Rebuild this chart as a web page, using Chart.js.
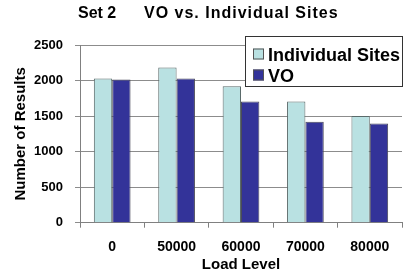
<!DOCTYPE html>
<html>
<head>
<meta charset="utf-8">
<script src="https://cdn.jsdelivr.net/npm/chart.js@4.4.1/dist/chart.umd.min.js"></script>
<style>
    html, body { margin: 0; padding: 0; background: #fff; }
</style>
</head>
<body>
<canvas id="myChart" width="405" height="278"></canvas>
<script>
const categories = ["0", "50000", "60000", "70000", "80000"]
const individualSites = [2030, 2185, 1920, 1705, 1500]
const vo = [2015, 2030, 1705, 1420, 1395]
const seriesNames = ["Individual Sites", "VO"]
const yMax = 2500
const yStep = 500

const lightColor = "#b9e1e2"
const darkColor = "#333399"
const fontFamily = "'Liberation Sans', Arial, sans-serif"

// Title drawn at a fixed spot (two parts with a wide gap)
const titlePlugin = {
    id: "fixedTitle",
    afterDraw(chart) {
        const c = chart.ctx
        c.save()
        c.fillStyle = "#000"
        c.font = "bold 16px " + fontFamily
        c.textBaseline = "alphabetic"
        c.fillText("Set 2", 78, 17.5)
        c.letterSpacing = "1px"
        c.fillText("VO vs. Individual Sites", 144, 17.5)
        c.restore()
    },
}

// Boxed legend that sits over the top right of the plot
const boxLegend = {
    id: "boxLegend",
    afterDraw(chart) {
        const c = chart.ctx
        c.save()
        c.fillStyle = "#fff"
        c.fillRect(245, 36, 158, 51)
        c.strokeStyle = "#333"
        c.lineWidth = 1
        c.strokeRect(245.5, 36.5, 157, 50)
        const rows = [
            { text: seriesNames[0], color: lightColor, y: 54.5 },
            { text: seriesNames[1], color: darkColor, y: 75.5 },
        ]
        c.font = "bold 18px " + fontFamily
        c.textBaseline = "alphabetic"
        rows.forEach((r) => {
            c.fillStyle = r.color
            c.fillRect(253, r.y - 6, 11, 11)
            c.strokeStyle = "#555"
            c.strokeRect(253.5, r.y - 5.5, 10, 10)
            c.fillStyle = "#000"
            c.fillText(r.text, 268, r.y + 6.5)
        })
        c.restore()
    },
}

new Chart(document.getElementById("myChart"), {
    type: "bar",
    data: {
        labels: categories,
        datasets: [
            {
                label: seriesNames[0],
                data: individualSites,
                backgroundColor: lightColor,
                borderColor: "#5a6a6a",
                borderWidth: 1,
            },
            {
                label: seriesNames[1],
                data: vo,
                backgroundColor: darkColor,
                borderColor: "#4a4a5a",
                borderWidth: 1,
            },
        ],
    },
    options: {
        responsive: false,
        animation: false,
        devicePixelRatio: 1,
        layout: {
            padding: { top: 45, right: 3, left: 0, bottom: 0 },
        },
        datasets: {
            bar: {
                categoryPercentage: 0.57,
                barPercentage: 1,
            },
        },
        scales: {
            x: {
                afterFit(scale) {
                    scale.height = 55.3
                },
                grid: {
                    offset: true,
                    drawOnChartArea: false,
                    tickLength: 5,
                    color: "#808080",
                },
                border: { color: "#808080" },
                ticks: {
                    color: "#000",
                    padding: 11,
                    font: { family: fontFamily, size: 14, weight: "bold" },
                },
                title: {
                    display: true,
                    text: "Load Level",
                    color: "#000",
                    padding: { top: 0, bottom: 4 },
                    font: { family: fontFamily, size: 15, weight: "bold" },
                },
            },
            y: {
                min: 0,
                max: yMax,
                afterFit(scale) {
                    scale.width = 80
                },
                grid: {
                    tickLength: 5,
                    color: "#8c8c8c",
                },
                border: { color: "#808080" },
                ticks: {
                    stepSize: yStep,
                    color: "#000",
                    padding: 12,
                    callback: (v) => String(v),
                    font: { family: fontFamily, size: 13, weight: "bold" },
                },
                title: {
                    display: true,
                    text: "Number of Results",
                    color: "#000",
                    padding: { top: 12, bottom: 0 },
                    font: { family: fontFamily, size: 15, weight: "bold" },
                },
            },
        },
        plugins: {
            legend: { display: false },
            tooltip: { enabled: false },
        },
    },
    plugins: [titlePlugin, boxLegend],
})
</script>
</body>
</html>
